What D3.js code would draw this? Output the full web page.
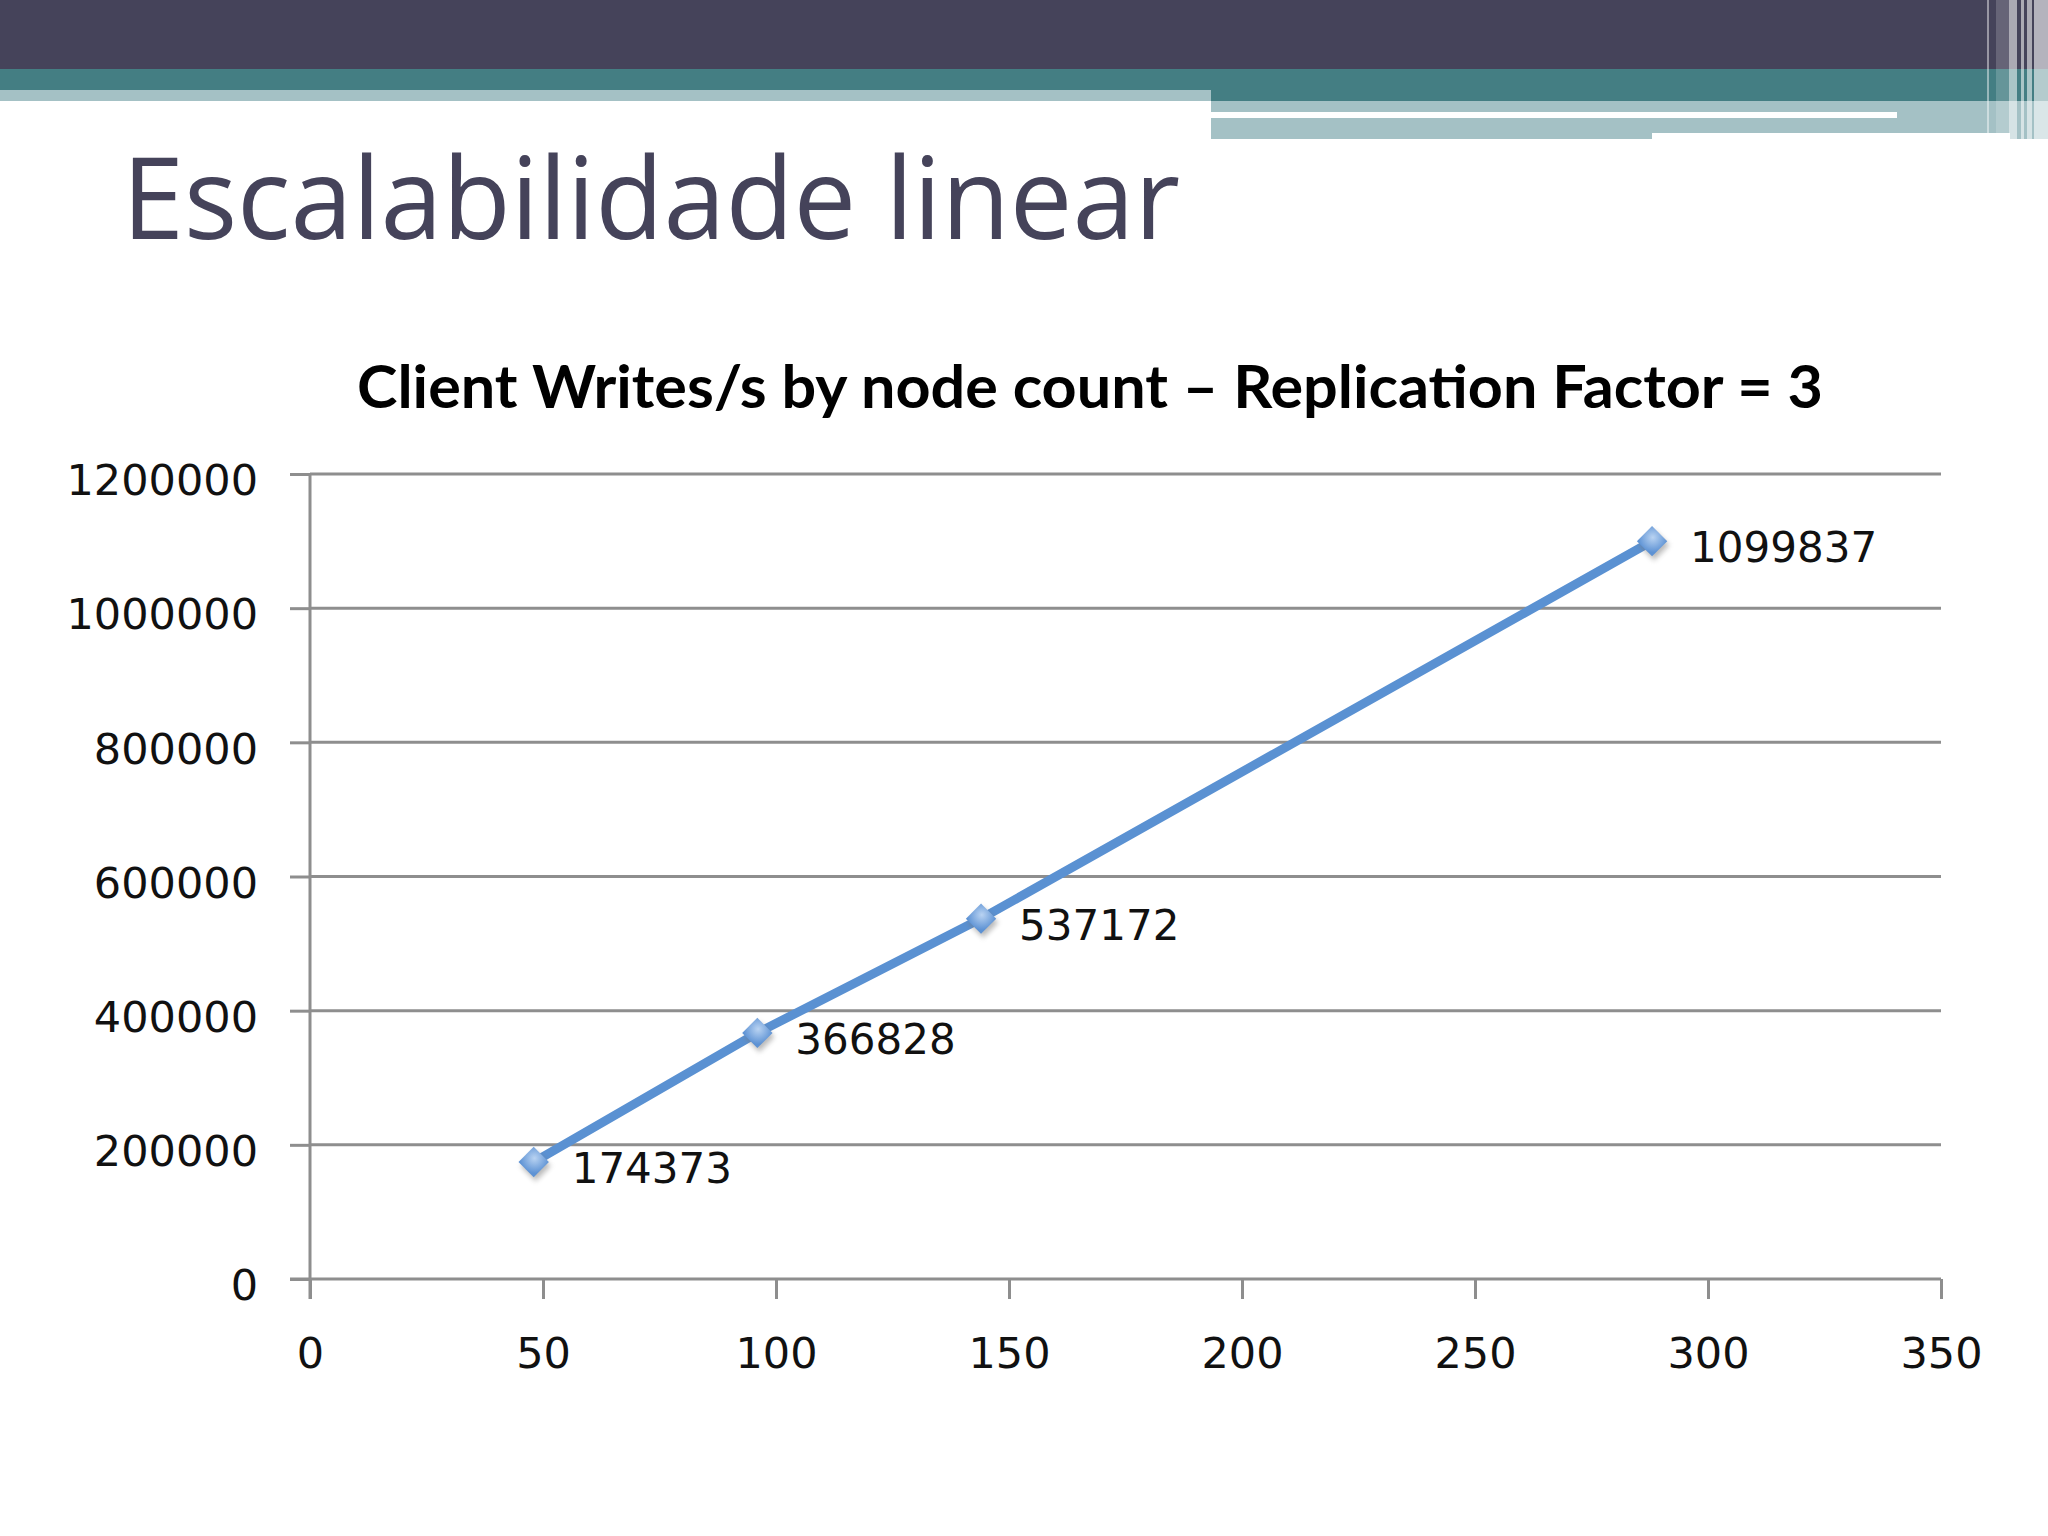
<!DOCTYPE html>
<html>
<head>
<meta charset="utf-8">
<script src="https://cdn.jsdelivr.net/npm/d3@7"></script>
<style>
  html, body { margin: 0; padding: 0; background: #fff; }
  svg { display: block; }
</style>
</head>
<body>
<div id="chart"></div>
<script>
// values
const nodeCounts = [48, 96, 144, 288];
const writesPerSec = [174373, 366828, 537172, 1099837];
const xTicks = [0, 50, 100, 150, 200, 250, 300, 350];
const yTicks = [0, 200000, 400000, 600000, 800000, 1000000, 1200000];
const slideTitle = 'Escalabilidade linear';
const chartTitle = 'Client Writes/s by node count \u2013 Replication Factor = 3';

const W = 2048, H = 1536;
const svg = d3.select('#chart').append('svg')
  .attr('width', W).attr('height', H);

const defs = svg.append('defs');
const grad = defs.append('radialGradient').attr('id', 'mk')
  .attr('cx', '40%').attr('cy', '35%').attr('r', '70%');
grad.append('stop').attr('offset', '0%').attr('stop-color', '#b9d3f2');
grad.append('stop').attr('offset', '100%').attr('stop-color', '#5d92d4');
const shadow = defs.append('filter').attr('id', 'sh')
  .attr('x', '-50%').attr('y', '-50%').attr('width', '200%').attr('height', '200%');
shadow.append('feGaussianBlur').attr('stdDeviation', 2.5);

// header bands
const bands = svg.append('g');
bands.append('rect').attr('x', 0).attr('y', 0).attr('width', W).attr('height', 69).attr('fill', '#45435a');
bands.append('rect').attr('x', 0).attr('y', 69).attr('width', W).attr('height', 32).attr('fill', '#447e83');
bands.append('rect').attr('x', 0).attr('y', 90).attr('width', 1211).attr('height', 11).attr('fill', '#a4c1c5');
bands.append('rect').attr('x', 1211).attr('y', 101).attr('width', W - 1211).attr('height', 38).attr('fill', '#a4c1c5');
bands.append('rect').attr('x', 1211).attr('y', 112).attr('width', 686).attr('height', 6).attr('fill', '#fff');
bands.append('rect').attr('x', 1652).attr('y', 133).attr('width', 358).attr('height', 7).attr('fill', '#fff');
// thin vertical stripes at the right edge
const stripes = [[1987, 2, 0.45], [1996, 13, 0.18], [2009, 8, 0.55], [2021, 3, 0.55], [2027, 5, 0.55], [2034, 14, 0.6]];
bands.selectAll('rect.st').data(stripes).enter().append('rect')
  .attr('class', 'st')
  .attr('x', d => d[0]).attr('y', 0).attr('width', d => d[1]).attr('height', 139)
  .attr('fill', '#fff').attr('opacity', d => d[2]);

// slide title
svg.append('text')
  .attr('x', 122).attr('y', 239)
  .attr('textLength', 1058).attr('lengthAdjust', 'spacingAndGlyphs')
  .style('font-family', '"Open Sans", sans-serif').style('font-size', '114px')
  .attr('fill', '#45435a')
  .text(slideTitle);

// chart title
svg.append('text')
  .attr('x', 357).attr('y', 408)
  .attr('textLength', 1466).attr('lengthAdjust', 'spacingAndGlyphs')
  .style('font-family', 'Lato, sans-serif').style('font-size', '60px').style('font-weight', 'bold')
  .attr('fill', '#000')
  .text(chartTitle);

const x = d3.scaleLinear().domain([0, 350]).range([310, 1941]);
const y = d3.scaleLinear().domain([0, 1200000]).range([1279, 474]);
const gridColor = '#8e8e8e';

// gridlines
svg.append('g').selectAll('line').data(yTicks.filter(v => v > 0)).enter().append('line')
  .attr('x1', x(0)).attr('x2', x(350))
  .attr('y1', d => y(d)).attr('y2', d => y(d))
  .attr('stroke', gridColor).attr('stroke-width', 3);

// y axis
const yAxis = svg.append('g').attr('transform', `translate(${x(0)},0)`)
  .call(d3.axisLeft(y).tickValues(yTicks).tickSize(20).tickPadding(32).tickFormat(d3.format('d')));
yAxis.select('.domain').attr('d', `M0,${y(1200000)}V${y(0) + 20}`).attr('stroke', gridColor).attr('stroke-width', 3);
yAxis.selectAll('.tick line').attr('stroke', gridColor).attr('stroke-width', 3);
yAxis.selectAll('.tick text').attr('y', 7)
  .style('font-family', '"DejaVu Sans", sans-serif').style('font-size', '43px').attr('fill', '#111');

// x axis
const xAxis = svg.append('g').attr('transform', `translate(0,${y(0)})`)
  .call(d3.axisBottom(x).tickValues(xTicks).tickSize(20).tickFormat(d3.format('d')));
xAxis.select('.domain').attr('d', `M${x(0) - 20},0H${x(350)}`).attr('stroke', gridColor).attr('stroke-width', 3);
xAxis.selectAll('.tick line').attr('stroke', gridColor).attr('stroke-width', 3);
xAxis.selectAll('.tick text').attr('y', 58).attr('dy', '0.71em')
  .style('font-family', '"DejaVu Sans", sans-serif').style('font-size', '43px').attr('fill', '#111');

const pts = nodeCounts.map((n, i) => ({n, v: writesPerSec[i]}));

// series line
svg.append('path').datum(pts)
  .attr('fill', 'none').attr('stroke', '#5a91d2').attr('stroke-width', 9)
  .attr('d', d3.line().x(d => x(d.n)).y(d => y(d.v)));

// diamond markers
const diamond = d3.symbol().type(d3.symbolSquare).size(460);
svg.append('g').selectAll('path').data(pts).enter().append('path')
  .attr('d', diamond)
  .attr('transform', d => `translate(${x(d.n) + 2},${y(d.v) + 4}) rotate(45)`)
  .attr('fill', '#777').attr('opacity', 0.5).attr('filter', 'url(#sh)');
svg.append('g').selectAll('path').data(pts).enter().append('path')
  .attr('d', diamond)
  .attr('transform', d => `translate(${x(d.n)},${y(d.v)}) rotate(45)`)
  .attr('fill', 'url(#mk)');

// data labels
svg.append('g').selectAll('text').data(pts).enter().append('text')
  .attr('x', d => x(d.n) + 38).attr('y', d => y(d.v) + 6).attr('dy', '0.36em')
  .style('font-family', '"DejaVu Sans", sans-serif').style('font-size', '42px').attr('fill', '#111')
  .text(d => d.v);
</script>
</body>
</html>
